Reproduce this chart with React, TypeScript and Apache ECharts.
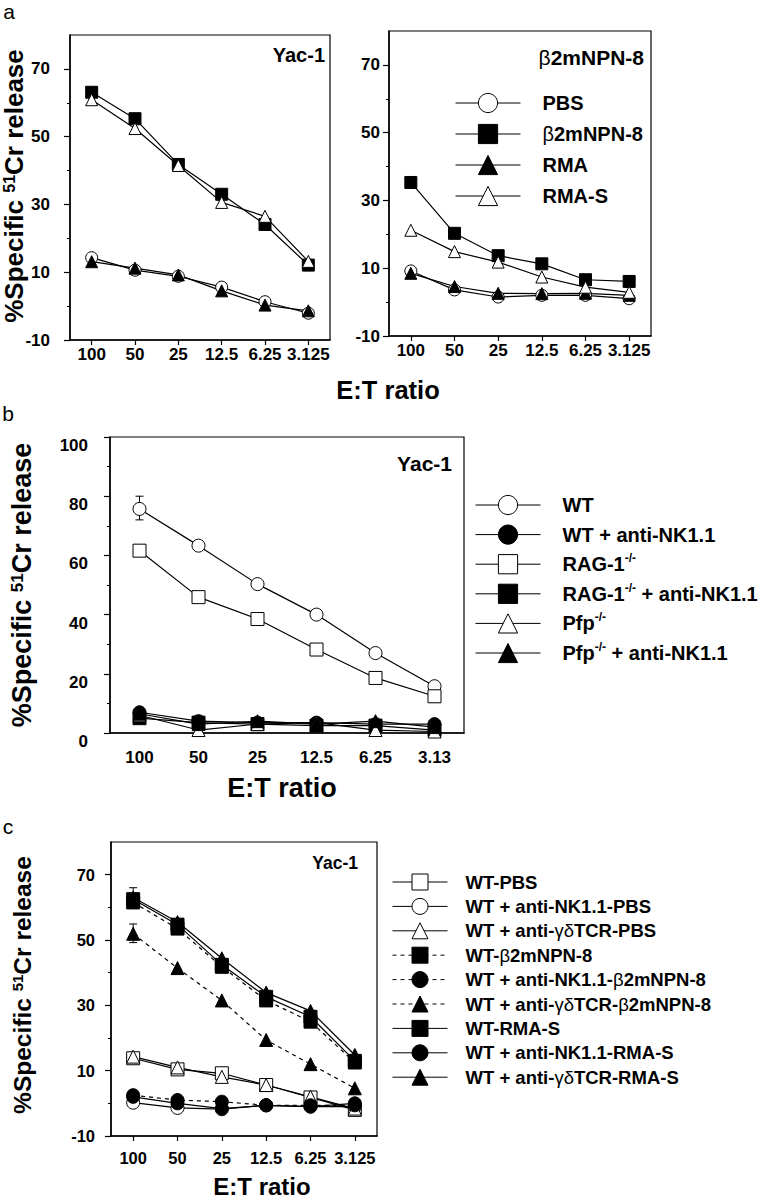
import React, { useEffect, useRef } from 'react';
import * as echarts from 'echarts';

const FONT = '"Liberation Sans", Arial, Helvetica, sans-serif';

// ---------- categories ----------
const catsAC = ['100', '50', '25', '12.5', '6.25', '3.125'];
const catsB = ['100', '50', '25', '12.5', '6.25', '3.13'];

// ---------- panel a, Yac-1 ----------
const aYacPBS = [14.3, 10.6, 8.8, 5.6, 1.3, -2.1];
const aYacB2m = [63.1, 55.3, 41.8, 33.0, 24.1, 12.1];
const aYacRMA = [13.1, 11.2, 9.2, 4.5, 0.3, -1.4];
const aYacRMAS = [60.9, 52.4, 41.5, 30.6, 26.5, 13.2];

// ---------- panel a, b2mNPN-8 ----------
const aB2mPBS = [9.2, 3.6, 1.5, 2.0, 2.0, 1.0];
const aB2mB2m = [35.3, 20.3, 13.7, 11.3, 6.6, 6.1];
const aB2mRMA = [8.5, 4.6, 2.6, 2.5, 2.6, 2.0];
const aB2mRMAS = [21.2, 14.9, 11.8, 7.4, 4.4, 2.9];

// ---------- panel b ----------
const bWT = [75.7, 63.3, 50.3, 40.0, 27.0, 15.8];
const bWTnk = [7.0, 4.0, 3.5, 3.5, 3.0, 3.0];
const bRAG = [61.6, 45.9, 38.5, 28.2, 18.6, 12.4];
const bRAGnk = [5.0, 3.5, 3.0, 2.5, 2.5, 1.0];
const bPfp = [6.0, 1.0, 3.0, 3.5, 1.0, 0.5];
const bPfpnk = [6.5, 3.0, 4.0, 3.0, 4.0, 2.0];
const bErr = [[0, 72, 80]];

// ---------- panel c ----------
const cWTPBS = [13.8, 10.4, 9.2, 5.6, 1.8, -2.0];
const cNKPBS = [0.2, -1.4, -1.8, -0.6, -1.0, -1.0];
const cGDPBS = [14.3, 11.0, 8.1, 5.6, 2.0, -1.6];
const cWTB2m = [61.5, 53.5, 41.8, 31.5, 25.0, 12.5];
const cNKB2m = [2.5, 1.0, 0.5, -0.6, -0.6, -0.6];
const cGDB2m = [51.9, 41.4, 31.5, 19.4, 12.0, 4.6];
const cWTRMAS = [62.5, 54.7, 42.4, 32.6, 26.5, 13.0];
const cNKRMAS = [2.0, 0.0, -1.6, -0.6, -1.0, 0.0];
const cGDRMAS = [63.0, 55.5, 44.4, 33.9, 28.3, 14.8];
const cErr = [[0, 60, 66], [0, 49.2, 54.9]];

// ---------- tick values ----------
const ticksA = [-10, 10, 30, 50, 70];
const minorA = [0, 20, 40, 60];
const ticksB = [0, 20, 40, 60, 80, 100];
const minorB = [10, 30, 50, 70, 90];

const mk = (name: string, data: number[], symbol: string, filled: boolean, size: number, ai: number, dashed = false) => ({
  type: 'line',
  name,
  data,
  xAxisIndex: ai,
  yAxisIndex: ai,
  symbol,
  symbolSize: size,
  showSymbol: true,
  lineStyle: { color: '#000', width: 1.2, type: dashed ? [4, 4] : 'solid' },
  itemStyle: { color: filled ? '#000' : '#fff', borderColor: '#000', borderWidth: 1 },
  emphasis: { disabled: true },
  z: 3,
});

const errSeries = (ai: number, data: number[][]) => ({
  type: 'custom',
  xAxisIndex: ai,
  yAxisIndex: ai,
  data,
  z: 2,
  silent: true,
  renderItem: (params: any, api: any) => {
    const x = api.value(0);
    const lo = api.coord([x, api.value(1)]);
    const hi = api.coord([x, api.value(2)]);
    const w = 4;
    const st = { stroke: '#000', lineWidth: 1 };
    return {
      type: 'group',
      children: [
        { type: 'line', shape: { x1: lo[0], y1: lo[1], x2: hi[0], y2: hi[1] }, style: st },
        { type: 'line', shape: { x1: hi[0] - w, y1: hi[1], x2: hi[0] + w, y2: hi[1] }, style: st },
        { type: 'line', shape: { x1: lo[0] - w, y1: lo[1], x2: lo[0] + w, y2: lo[1] }, style: st },
      ],
    };
  },
});

const xAx = (gi: number, cats: string[], fs: number, margin: number, tick = true) => ({
  type: 'category',
  gridIndex: gi,
  data: cats,
  boundaryGap: true,
  axisLine: { show: true, onZero: false, lineStyle: { color: '#000', width: 1.5 } },
  axisTick: { show: tick, alignWithLabel: true, length: 5, lineStyle: { color: '#000', width: 1.2 } },
  axisLabel: { color: '#000', fontSize: fs, fontWeight: 'bold', fontFamily: FONT, margin, interval: 0 },
  splitLine: { show: false },
});

const yAx = (gi: number, min: number, max: number, vals: number[], fs: number, margin: number, va = 'middle') => ({
  type: 'value',
  gridIndex: gi,
  position: 'left',
  min,
  max,
  axisLine: { show: true, onZero: false, lineStyle: { color: '#000', width: 1.5 } },
  axisTick: { show: true, length: 6, customValues: vals, lineStyle: { color: '#000', width: 1.2 } },
  axisLabel: { color: '#000', fontSize: fs, fontWeight: 'bold', fontFamily: FONT, margin, customValues: vals, verticalAlign: va },
  splitLine: { show: false },
});

const yMinor = (gi: number, min: number, max: number, vals: number[]) => ({
  type: 'value',
  gridIndex: gi,
  position: 'left',
  offset: 0,
  min,
  max,
  axisLine: { show: false, onZero: false },
  axisLabel: { show: false },
  splitLine: { show: false },
  axisTick: { show: true, length: 3, customValues: vals, lineStyle: { color: '#000', width: 1 } },
});

const fmtName = (name: string) =>
  name.replace(/-\/-/g, '{sup|-/-}').replace(/γδ/g, '{g|γδ}').replace(/β/g, '{g|β}');

const legendRich = (fs: number, lh: number) => ({
  sup: { fontSize: Math.round(fs * 0.6), fontWeight: 'bold', fontFamily: FONT, color: '#000', verticalAlign: 'top', lineHeight: lh },
  g: { fontSize: fs, fontWeight: 'normal', fontFamily: FONT, color: '#000', lineHeight: lh },
});

type LegItem = { name: string; filled: boolean; dashed?: boolean };
const legItems = (items: LegItem[]) =>
  items.map((it) => ({
    name: it.name,
    itemStyle: { color: it.filled ? '#000' : '#fff', borderColor: '#000', borderWidth: 1 },
    lineStyle: { color: '#000', width: 1, type: it.dashed ? [4, 4] : 'solid' },
  }));

const mkLegend = (items: LegItem[], left: number, top: number, iw: number, ih: number, gap: number, fs: number, padL: number) => ({
  orient: 'vertical',
  left,
  top,
  itemWidth: iw,
  itemHeight: ih,
  itemGap: gap,
  selectedMode: false,
  padding: 0,
  data: legItems(items),
  formatter: fmtName,
  textStyle: {
    color: '#000',
    fontSize: fs,
    fontWeight: 'bold',
    fontFamily: FONT,
    lineHeight: ih,
    padding: [0, 0, 0, padL],
    rich: legendRich(fs, ih),
  },
});

const txt = (text: string, x: number, y: number, size: number, o: any = {}) => ({
  type: 'text',
  x,
  y,
  rotation: o.rot || 0,
  silent: true,
  z: 20,
  style: {
    text,
    fill: '#000',
    fontSize: size,
    fontWeight: o.weight || 'bold',
    fontFamily: FONT,
    align: o.align || 'center',
    verticalAlign: 'middle',
    rich: o.rich,
  },
});

const supRich = (fs: number) => ({
  sup: { fontSize: Math.round(fs * 0.62), fontWeight: 'bold', fontFamily: FONT, fill: '#000', verticalAlign: 'top', lineHeight: fs },
  n: { fontSize: fs, fontWeight: 'bold', fontFamily: FONT, fill: '#000', lineHeight: fs },
});
const greekRich = (fs: number) => ({
  g: { fontSize: fs, fontWeight: 'normal', fontFamily: FONT, fill: '#000' },
});

const yTitle = '{n|%Specific }{sup|51}{n|Cr release}';

export default function App() {
  const ref = useRef<HTMLDivElement>(null);
  useEffect(() => {
    if (!ref.current) return;
    const chart = echarts.init(ref.current, null, { renderer: 'svg' });
    const gridBase = { show: true, borderColor: '#000', borderWidth: 1.2, backgroundColor: 'transparent', containLabel: false, outerBoundsMode: 'none' };
    const option: any = {
      animation: false,
      backgroundColor: '#fff',
      textStyle: { fontFamily: FONT },
      grid: [
        { ...gridBase, left: 70, top: 35, width: 260, height: 305 },
        { ...gridBase, left: 389, top: 31, width: 262, height: 305 },
        { ...gridBase, left: 110, top: 437, width: 354, height: 296 },
        { ...gridBase, left: 111, top: 842, width: 266, height: 294 },
      ],
      xAxis: [
        xAx(0, catsAC, 17, 6),
        xAx(1, catsAC, 17, 6),
        xAx(2, catsB, 17, 16, false),
        xAx(3, catsAC, 16.5, 13),
      ],
      yAxis: [
        yAx(0, -10, 80, ticksA, 17, 20),
        yAx(1, -10, 80, ticksA, 17, 9),
        yAx(2, 0, 100, ticksB, 17, 22, 'top'),
        yAx(3, -10, 80, ticksA, 16.5, 16),
        yMinor(0, -10, 80, minorA),
        yMinor(1, -10, 80, minorA),
        yMinor(2, 0, 100, minorB),
        yMinor(3, -10, 80, minorA),
      ],
      legend: [
        mkLegend(
          [
            { name: 'PBS', filled: false },
            { name: 'β2mNPN-8', filled: true },
            { name: 'RMA', filled: true },
            { name: 'RMA-S', filled: false },
          ],
          455, 91, 65, 24, 7, 20, 17,
        ),
        mkLegend(
          [
            { name: 'WT', filled: false },
            { name: 'WT + anti-NK1.1', filled: true },
            { name: 'RAG-1-/-', filled: false },
            { name: 'RAG-1-/- + anti-NK1.1', filled: true },
            { name: 'Pfp-/-', filled: false },
            { name: 'Pfp-/- + anti-NK1.1', filled: true },
          ],
          475, 493, 65, 24, 5.6, 20, 17,
        ),
        mkLegend(
          [
            { name: 'WT-PBS', filled: false },
            { name: 'WT + anti-NK1.1-PBS', filled: false },
            { name: 'WT + anti-γδTCR-PBS', filled: false },
            { name: 'WT-β2mNPN-8', filled: true, dashed: true },
            { name: 'WT + anti-NK1.1-β2mNPN-8', filled: true, dashed: true },
            { name: 'WT + anti-γδTCR-β2mNPN-8', filled: true, dashed: true },
            { name: 'WT-RMA-S', filled: true },
            { name: 'WT + anti-NK1.1-RMA-S', filled: true },
            { name: 'WT + anti-γδTCR-RMA-S', filled: true },
          ],
          392, 872, 55, 20, 4.4, 18.5, 13,
        ),
      ],
      series: [
        // panel a left
        mk('PBS', aYacPBS, 'circle', false, 12, 0),
        mk('β2mNPN-8', aYacB2m, 'rect', true, 12, 0),
        mk('RMA', aYacRMA, 'triangle', true, 12, 0),
        mk('RMA-S', aYacRMAS, 'triangle', false, 12, 0),
        // panel a right
        mk('PBS', aB2mPBS, 'circle', false, 12, 1),
        mk('β2mNPN-8', aB2mB2m, 'rect', true, 12, 1),
        mk('RMA', aB2mRMA, 'triangle', true, 12, 1),
        mk('RMA-S', aB2mRMAS, 'triangle', false, 12, 1),
        // panel b
        errSeries(2, bErr),
        mk('WT', bWT, 'circle', false, 13, 2),
        mk('WT + anti-NK1.1', bWTnk, 'circle', true, 13, 2),
        mk('RAG-1-/-', bRAG, 'rect', false, 13, 2),
        mk('RAG-1-/- + anti-NK1.1', bRAGnk, 'rect', true, 13, 2),
        mk('Pfp-/-', bPfp, 'triangle', false, 13, 2),
        mk('Pfp-/- + anti-NK1.1', bPfpnk, 'triangle', true, 13, 2),
        // panel c
        errSeries(3, cErr),
        mk('WT-PBS', cWTPBS, 'rect', false, 13, 3),
        mk('WT + anti-NK1.1-PBS', cNKPBS, 'circle', false, 13, 3),
        mk('WT + anti-γδTCR-PBS', cGDPBS, 'triangle', false, 13, 3),
        mk('WT-β2mNPN-8', cWTB2m, 'rect', true, 13, 3, true),
        mk('WT + anti-NK1.1-β2mNPN-8', cNKB2m, 'circle', true, 13, 3, true),
        mk('WT + anti-γδTCR-β2mNPN-8', cGDB2m, 'triangle', true, 13, 3, true),
        mk('WT-RMA-S', cWTRMAS, 'rect', true, 13, 3),
        mk('WT + anti-NK1.1-RMA-S', cNKRMAS, 'circle', true, 13, 3),
        mk('WT + anti-γδTCR-RMA-S', cGDRMAS, 'triangle', true, 13, 3),
      ],
      graphic: [
        txt('a', 9, 11, 21, { weight: 'normal' }),
        txt('b', 8, 413, 21, { weight: 'normal' }),
        txt('c', 8, 826, 21, { weight: 'normal' }),
        txt('Yac-1', 325, 55, 20, { align: 'right' }),
        txt('{g|β}2mNPN-8', 644, 57, 21, { align: 'right', rich: greekRich(21) }),
        txt('Yac-1', 452, 463, 21, { align: 'right' }),
        txt('Yac-1', 358, 863, 17.5, { align: 'right' }),
        txt(yTitle, 14, 186, 26, { rot: Math.PI / 2, rich: supRich(26) }),
        txt(yTitle, 22, 585, 27, { rot: Math.PI / 2, rich: supRich(27) }),
        txt(yTitle, 22, 985, 24.5, { rot: Math.PI / 2, rich: supRich(24.5) }),
        txt('E:T ratio', 388, 390, 25.5),
        txt('E:T ratio', 282, 788, 27),
        txt('E:T ratio', 262, 1186, 24),
      ],
    };
    chart.setOption(option);
    return () => chart.dispose();
  }, []);
  return <div ref={ref} style={{ position: 'absolute', left: 0, top: 0, width: 764, height: 1199 }} />;
}
